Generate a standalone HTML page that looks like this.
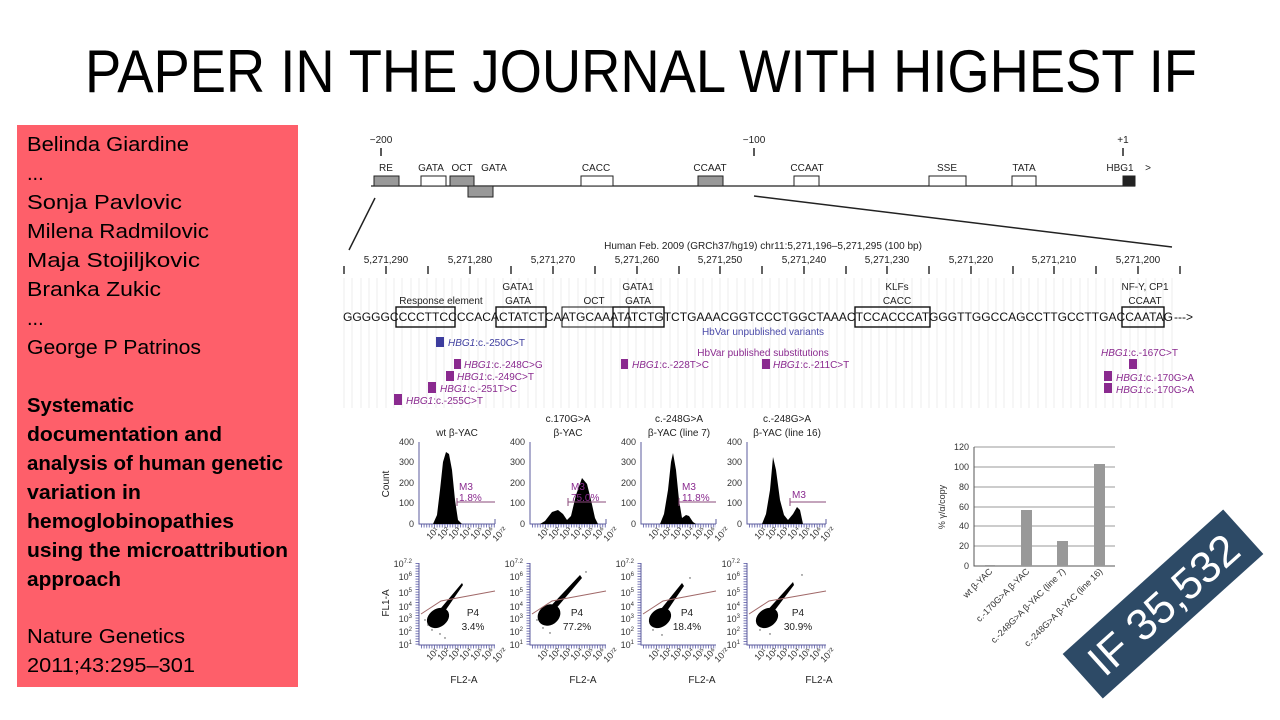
<!DOCTYPE html>
<html><head><meta charset="utf-8"><style>
html,body{margin:0;padding:0;background:#fff;}
svg{display:block;font-family:"Liberation Sans",Arial,sans-serif;}
.p{fill:#8a2a8f;font-size:10px;}
.ax{stroke:#5b5b9e;stroke-width:1;fill:none;}
.tl{font-size:9px;fill:#333;}
</style></head><body>
<svg width="1280" height="720" viewBox="0 0 1280 720" xmlns="http://www.w3.org/2000/svg">
<rect width="1280" height="720" fill="#fff"/>
<text x="85" y="92" font-size="60" textLength="1112" lengthAdjust="spacingAndGlyphs" fill="#000">PAPER IN THE JOURNAL WITH HIGHEST IF</text>

<rect x="17" y="125" width="281" height="562" fill="#fe5f6a"/>
<g font-size="20" fill="#000">
<text x="27" y="151" textLength="162" lengthAdjust="spacingAndGlyphs">Belinda Giardine</text>
<text x="27" y="180">...</text>
<text x="27" y="209" textLength="155" lengthAdjust="spacingAndGlyphs">Sonja Pavlovic</text>
<text x="27" y="238" textLength="182" lengthAdjust="spacingAndGlyphs">Milena Radmilovic</text>
<text x="27" y="267" textLength="173" lengthAdjust="spacingAndGlyphs">Maja Stojiljkovic</text>
<text x="27" y="296" textLength="134" lengthAdjust="spacingAndGlyphs">Branka Zukic</text>
<text x="27" y="325">...</text>
<text x="27" y="354" textLength="174" lengthAdjust="spacingAndGlyphs">George P Patrinos</text>
<g font-weight="bold">
<text x="27" y="412" textLength="107" lengthAdjust="spacingAndGlyphs">Systematic</text>
<text x="27" y="441" textLength="195" lengthAdjust="spacingAndGlyphs">documentation and</text>
<text x="27" y="470" textLength="256" lengthAdjust="spacingAndGlyphs">analysis of human genetic</text>
<text x="27" y="499" textLength="114" lengthAdjust="spacingAndGlyphs">variation in</text>
<text x="27" y="528" textLength="207" lengthAdjust="spacingAndGlyphs">hemoglobinopathies</text>
<text x="27" y="557" textLength="261" lengthAdjust="spacingAndGlyphs">using the microattribution</text>
<text x="27" y="586" textLength="94" lengthAdjust="spacingAndGlyphs">approach</text>
</g>
<text x="27" y="643" textLength="158" lengthAdjust="spacingAndGlyphs">Nature Genetics</text>
<text x="27" y="672" textLength="168" lengthAdjust="spacingAndGlyphs">2011;43:295–301</text>
</g>

<!-- top promoter diagram -->
<g font-size="10" fill="#222" text-anchor="middle">
<text x="381" y="143">−200</text><text x="754" y="143">−100</text><text x="1123" y="143">+1</text>
<line x1="381" y1="148" x2="381" y2="156" stroke="#222" stroke-width="1.5"/>
<line x1="754" y1="148" x2="754" y2="156" stroke="#222" stroke-width="1.5"/>
<line x1="1123" y1="148" x2="1123" y2="156" stroke="#222" stroke-width="1.5"/>
<text x="386" y="171">RE</text><text x="431" y="171">GATA</text><text x="462" y="171">OCT</text><text x="494" y="171">GATA</text>
<text x="596" y="171">CACC</text><text x="710" y="171">CCAAT</text><text x="807" y="171">CCAAT</text>
<text x="947" y="171">SSE</text><text x="1024" y="171">TATA</text><text x="1120" y="171">HBG1</text><text x="1148" y="171">&gt;</text>
</g>
<line x1="371" y1="186" x2="1135" y2="186" stroke="#222" stroke-width="1.3"/>
<g stroke="#222" stroke-width="1">
<rect x="374" y="176" width="25" height="10" fill="#999"/>
<rect x="421" y="176" width="25" height="10" fill="#fff"/>
<rect x="450" y="176" width="24" height="10" fill="#999"/>
<rect x="468" y="186" width="25" height="11" fill="#999"/>
<rect x="581" y="176" width="32" height="10" fill="#fff"/>
<rect x="698" y="176" width="25" height="10" fill="#999"/>
<rect x="794" y="176" width="25" height="10" fill="#fff"/>
<rect x="929" y="176" width="37" height="10" fill="#fff"/>
<rect x="1012" y="176" width="24" height="10" fill="#fff"/>
<rect x="1123" y="176" width="12" height="10" fill="#222"/>
</g>
<line x1="375" y1="198" x2="349" y2="250" stroke="#222" stroke-width="1.5"/>
<line x1="754" y1="196" x2="1172" y2="247" stroke="#222" stroke-width="1.5"/>

<!-- sequence region -->
<g fill="none" stroke="#e2e2e2" stroke-width="0.6">
<path d="M344 278V408M352 278V408M361 278V408M369 278V408M377 278V408M386 278V408M394 278V408M402 278V408M411 278V408M419 278V408M427 278V408M436 278V408M444 278V408M452 278V408M461 278V408M469 278V408M478 278V408M486 278V408M494 278V408M503 278V408M511 278V408M519 278V408M528 278V408M536 278V408M544 278V408M553 278V408M561 278V408M569 278V408M578 278V408M586 278V408M595 278V408M603 278V408M611 278V408M620 278V408M628 278V408M636 278V408M645 278V408M653 278V408M661 278V408M670 278V408M678 278V408M687 278V408M695 278V408M703 278V408M712 278V408M720 278V408M728 278V408M737 278V408M745 278V408M753 278V408M762 278V408M770 278V408M779 278V408M787 278V408M795 278V408M804 278V408M812 278V408M820 278V408M829 278V408M837 278V408M845 278V408M854 278V408M862 278V408M871 278V408M879 278V408M887 278V408M896 278V408M904 278V408M912 278V408M921 278V408M929 278V408M937 278V408M946 278V408M954 278V408M962 278V408M971 278V408M979 278V408M988 278V408M996 278V408M1004 278V408M1013 278V408M1021 278V408M1029 278V408M1038 278V408M1046 278V408M1054 278V408M1063 278V408M1071 278V408M1080 278V408M1088 278V408M1096 278V408M1105 278V408M1113 278V408M1121 278V408M1130 278V408M1138 278V408M1146 278V408M1155 278V408M1163 278V408M1172 278V408"/>
</g>
<text x="763" y="249" font-size="10" fill="#222" text-anchor="middle">Human Feb. 2009 (GRCh37/hg19)   chr11:5,271,196–5,271,295 (100 bp)</text>
<g font-size="10" fill="#222" text-anchor="middle">
<text x="386" y="263">5,271,290</text><text x="470" y="263">5,271,280</text><text x="553" y="263">5,271,270</text><text x="637" y="263">5,271,260</text><text x="720" y="263">5,271,250</text><text x="804" y="263">5,271,240</text><text x="887" y="263">5,271,230</text><text x="971" y="263">5,271,220</text><text x="1054" y="263">5,271,210</text><text x="1138" y="263">5,271,200</text>
</g>
<path d="M344 266V274M386 266V274M428 266V274M470 266V274M511 266V274M553 266V274M595 266V274M637 266V274M679 266V274M720 266V274M762 266V274M804 266V274M846 266V274M887 266V274M929 266V274M971 266V274M1013 266V274M1054 266V274M1096 266V274M1138 266V274M1180 266V274" stroke="#222" stroke-width="1.4"/>
<g font-size="10" fill="#222" text-anchor="middle">
<text x="441" y="304">Response element</text>
<text x="518" y="290">GATA1</text><text x="518" y="304">GATA</text>
<text x="594" y="304">OCT</text>
<text x="638" y="290">GATA1</text><text x="638" y="304">GATA</text>
<text x="897" y="290">KLFs</text><text x="897" y="304">CACC</text>
<text x="1145" y="290">NF-Y, CP1</text><text x="1145" y="304">CCAAT</text>
</g>
<text x="343" y="321" font-size="12" fill="#111" textLength="830" lengthAdjust="spacingAndGlyphs">GGGGGCCCCTTCCCCACACTATCTCAATGCAAATATCTGTCTGAAACGGTCCCTGGCTAAACTCCACCCATGGGTTGGCCAGCCTTGCCTTGACCAATAG</text>
<text x="1174" y="321" font-size="12" fill="#111">---&gt;</text>
<g fill="none" stroke="#111" stroke-width="1.4">
<rect x="396" y="307" width="59" height="20"/><rect x="496" y="307" width="50" height="20"/>
<rect x="562" y="307" width="67" height="20" stroke-width="1"/><rect x="613" y="307" width="51" height="20"/>
<rect x="855" y="307" width="75" height="20"/><rect x="1122" y="307" width="42" height="20"/>
</g>
<text x="763" y="335" font-size="10" fill="#4a4aa8" text-anchor="middle">HbVar unpublished variants</text>
<rect x="436" y="337" width="8" height="10" fill="#3d3d9e"/>
<text x="448" y="346" font-size="10" fill="#3d3d9e"><tspan font-style="italic">HBG1</tspan>:c.-250C&gt;T</text>
<text x="763" y="356" class="p" text-anchor="middle">HbVar published substitutions</text>
<g fill="#8a2a8f">
<rect x="454" y="359" width="7" height="10"/><rect x="446" y="371" width="8" height="10"/><rect x="428" y="382" width="8" height="11"/><rect x="394" y="394" width="8" height="11"/>
<rect x="621" y="359" width="7" height="10"/><rect x="762" y="359" width="8" height="10"/>
<rect x="1129" y="359" width="8" height="10"/><rect x="1104" y="371" width="8" height="10"/><rect x="1104" y="383" width="8" height="10"/>
</g>
<g class="p">
<text x="464" y="368"><tspan font-style="italic">HBG1</tspan>:c.-248C&gt;G</text>
<text x="457" y="380"><tspan font-style="italic">HBG1</tspan>:c.-249C&gt;T</text>
<text x="440" y="392"><tspan font-style="italic">HBG1</tspan>:c.-251T&gt;C</text>
<text x="406" y="404"><tspan font-style="italic">HBG1</tspan>:c.-255C&gt;T</text>
<text x="632" y="368"><tspan font-style="italic">HBG1</tspan>:c.-228T&gt;C</text>
<text x="773" y="368"><tspan font-style="italic">HBG1</tspan>:c.-211C&gt;T</text>
<text x="1101" y="356"><tspan font-style="italic">HBG1</tspan>:c.-167C&gt;T</text>
<text x="1116" y="381"><tspan font-style="italic">HBG1</tspan>:c.-170G&gt;A</text>
<text x="1116" y="393"><tspan font-style="italic">HBG1</tspan>:c.-170G&gt;A</text>
</g>

<!-- histograms -->
<g font-size="10" fill="#222" text-anchor="middle">
<text x="457" y="436">wt β-YAC</text>
<text x="568" y="422">c.170G&gt;A</text><text x="568" y="436">β-YAC</text>
<text x="679" y="422">c.-248G&gt;A</text><text x="679" y="436">β-YAC (line 7)</text>
<text x="787" y="422">c.-248G&gt;A</text><text x="787" y="436">β-YAC (line 16)</text>
<text transform="translate(389,484) rotate(-90)">Count</text>
<text transform="translate(389,603) rotate(-90)">FL1-A</text>
<text x="464" y="683">FL2-A</text><text x="583" y="683">FL2-A</text><text x="702" y="683">FL2-A</text><text x="819" y="683">FL2-A</text>
</g>
<g class="ax">
<path d="M419 442V524H495M419 563V645H495M530 442V524H606M530 563V645H606M641 442V524H716M641 563V645H716M747 442V524H826M747 563V645H826"/>
<path d="M495 519V524M606 519V524M716 519V524M826 519V524"/>
</g>
<g stroke="#7a7ab8" stroke-width="3" stroke-dasharray="1 1.6" fill="none">
<path d="M421 526H495M532 526H606M643 526H716M749 526H826M421 647H495M532 647H606M643 647H716M749 647H826"/>
<path d="M417 563V645M528 563V645M639 563V645M745 563V645"/>
</g>
<g class="tl" text-anchor="end">
<text x="414" y="445">400</text><text x="414" y="465">300</text><text x="414" y="486">200</text><text x="414" y="506">100</text><text x="414" y="527">0</text>
<text x="525" y="445">400</text><text x="525" y="465">300</text><text x="525" y="486">200</text><text x="525" y="506">100</text><text x="525" y="527">0</text>
<text x="636" y="445">400</text><text x="636" y="465">300</text><text x="636" y="486">200</text><text x="636" y="506">100</text><text x="636" y="527">0</text>
<text x="742" y="445">400</text><text x="742" y="465">300</text><text x="742" y="486">200</text><text x="742" y="506">100</text><text x="742" y="527">0</text>
</g>
<g class="tl" text-anchor="end" font-size="9">
<g id="sy">
<text x="412" y="567">10<tspan font-size="6" dy="-4">7.2</tspan></text>
<text x="412" y="580">10<tspan font-size="6" dy="-4">6</tspan></text>
<text x="412" y="596">10<tspan font-size="6" dy="-4">5</tspan></text>
<text x="412" y="610">10<tspan font-size="6" dy="-4">4</tspan></text>
<text x="412" y="622">10<tspan font-size="6" dy="-4">3</tspan></text>
<text x="412" y="635">10<tspan font-size="6" dy="-4">2</tspan></text>
<text x="412" y="648">10<tspan font-size="6" dy="-4">1</tspan></text>
</g>
<use href="#sy" x="111"/><use href="#sy" x="222"/><use href="#sy" x="328"/>
</g>
<g id="xl" class="tl" font-size="8" fill="#555">
<text transform="translate(430,540) rotate(-45)">10¹</text>
<text transform="translate(441,540) rotate(-45)">10²</text>
<text transform="translate(452,540) rotate(-45)">10³</text>
<text transform="translate(463,540) rotate(-45)">10⁴</text>
<text transform="translate(474,540) rotate(-45)">10⁵</text>
<text transform="translate(485,540) rotate(-45)">10⁶</text>
<text transform="translate(496,542) rotate(-45)">10⁷²</text>
</g>
<use href="#xl" x="111"/><use href="#xl" x="222"/><use href="#xl" x="328"/>
<use href="#xl" y="121"/><use href="#xl" x="111" y="121"/><use href="#xl" x="222" y="121"/><use href="#xl" x="328" y="121"/>

<g fill="#000">
<path d="M433,524 L437,515 L440,490 L443,462 L446,452 L449,454 L452,470 L455,500 L458,520 L462,524 Z"/>
<path d="M540,524 L545,521 L552,512 L558,510 L563,514 L567,520 L571,516 L576,495 L582,478 L587,484 L591,500 L595,518 L598,524 Z"/>
<path d="M660,524 L664,514 L668,490 L671,462 L673,453 L676,470 L679,500 L682,518 L686,515 L689,516 L693,522 L696,524 Z"/>
<path d="M762,524 L766,514 L770,490 L773,457 L776,470 L780,500 L784,515 L788,520 L793,514 L797,507 L800,510 L803,524 Z"/>
</g>
<g stroke="#8a4a7a" stroke-width="1">
<path d="M457 502H495M457 498V506M568 502H606M568 498V506M679 502H716M679 498V506M790 502H826M790 498V506"/>
</g>
<g class="p" font-size="10">
<text x="459" y="490">M3</text><text x="459" y="501">1.8%</text>
<text x="571" y="490">M3</text><text x="571" y="501">75.0%</text>
<text x="682" y="490">M3</text><text x="682" y="501">11.8%</text>
<text x="792" y="498">M3</text>
</g>

<!-- scatter -->
<g fill="#000">
<ellipse cx="438" cy="618" rx="12" ry="9" transform="rotate(-35 438 618)"/>
<path d="M436 614 L462 583 L463 585 L443 614 Z"/>
<ellipse cx="549" cy="615" rx="12" ry="10" transform="rotate(-35 549 615)"/>
<path d="M546 611 L580 575 L582 578 L554 611 Z"/>
<ellipse cx="660" cy="618" rx="12" ry="9" transform="rotate(-35 660 618)"/>
<path d="M657 614 L682 583 L684 586 L665 614 Z"/>
<ellipse cx="767" cy="618" rx="12" ry="9" transform="rotate(-35 767 618)"/>
<path d="M764 614 L793 582 L794 585 L772 614 Z"/>
</g>
<g fill="#444">
<circle cx="432" cy="630" r="0.7"/><circle cx="440" cy="634" r="0.7"/><circle cx="428" cy="625" r="0.7"/><circle cx="445" cy="638" r="0.7"/><circle cx="425" cy="620" r="0.7"/>
<circle cx="543" cy="628" r="0.7"/><circle cx="550" cy="633" r="0.7"/><circle cx="537" cy="620" r="0.7"/><circle cx="586" cy="572" r="0.7"/>
<circle cx="653" cy="630" r="0.7"/><circle cx="662" cy="635" r="0.7"/><circle cx="690" cy="578" r="0.7"/>
<circle cx="760" cy="630" r="0.7"/><circle cx="770" cy="634" r="0.7"/><circle cx="802" cy="575" r="0.7"/>
</g>
<g stroke="#a06868" stroke-width="1" fill="none">
<path d="M421 614 L441 601 L495 591M532 614 L552 601 L606 591M643 614 L663 601 L716 591M749 614 L769 601 L826 591"/>
</g>
<g font-size="10" fill="#222" text-anchor="middle">
<text x="473" y="616">P4</text><text x="473" y="630">3.4%</text>
<text x="577" y="616">P4</text><text x="577" y="630">77.2%</text>
<text x="687" y="616">P4</text><text x="687" y="630">18.4%</text>
<text x="798" y="616">P4</text><text x="798" y="630">30.9%</text>
</g>

<!-- bar chart -->
<g stroke="#999" stroke-width="1">
<path d="M974 447H1115M974 467H1115M974 487H1115M974 507H1115M974 526H1115M974 546H1115"/>
</g>
<path d="M974 447V566H1115" stroke="#555" fill="none" stroke-width="1"/>
<g class="tl" text-anchor="end" font-size="9">
<text x="969" y="450">120</text><text x="969" y="470">100</text><text x="969" y="490">80</text><text x="969" y="510">60</text><text x="969" y="529">40</text><text x="969" y="549">20</text><text x="969" y="569">0</text>
</g>
<text transform="translate(945,507) rotate(-90)" font-size="9" fill="#333" text-anchor="middle">% γ/α/copy</text>
<g fill="#999">
<rect x="985" y="565" width="10" height="1"/><rect x="1021" y="510" width="11" height="56"/><rect x="1057" y="541" width="11" height="25"/><rect x="1094" y="464" width="11" height="102"/>
</g>
<g class="tl" font-size="9" text-anchor="end">
<text transform="translate(993,572) rotate(-45)">wt β-YAC</text>
<text transform="translate(1030,572) rotate(-45)">c.-170G&gt;A β-YAC</text>
<text transform="translate(1066,572) rotate(-45)">c.-248G&gt;A β-YAC (line 7)</text>
<text transform="translate(1103,572) rotate(-45)">c.-248G&gt;A β-YAC (line 16)</text>
</g>

<!-- IF banner -->
<g transform="translate(1163,604) rotate(-42)">
<rect x="-108" y="-30" width="216" height="60" fill="#2d4a66"/>
<text x="0" y="16" font-size="44" fill="#fff" text-anchor="middle">IF 35,532</text>
</g>
</svg>
</body></html>
